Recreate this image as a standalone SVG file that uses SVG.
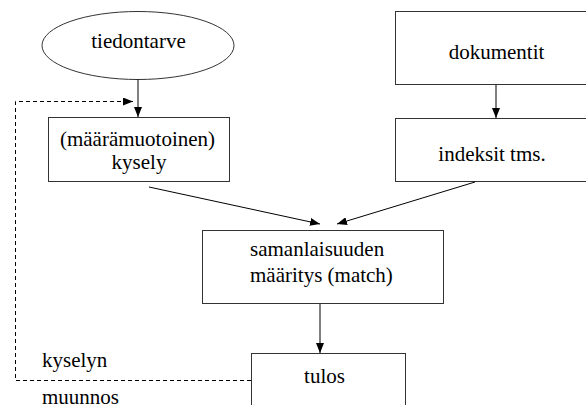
<svg xmlns="http://www.w3.org/2000/svg" width="586" height="405" viewBox="0 0 586 405">
<defs>
<style>
.n{fill:#fff;stroke:#333;stroke-width:1}
.t{font-family:'Liberation Serif','Times New Roman',Times,'Nimbus Roman','DejaVu Serif',serif;font-size:21px;fill:#000}
.c{text-anchor:middle}
.e{fill:none;stroke:#000;stroke-width:1}
.d{fill:none;stroke:#000;stroke-width:1;stroke-dasharray:4 3}
</style>
<marker id="ah" viewBox="0 0 10 8" refX="10" refY="4" markerWidth="10" markerHeight="8" markerUnits="userSpaceOnUse" orient="auto">
<path d="M0,0 L10,4 L0,8 Z" fill="#000"/>
</marker>
</defs>
<rect width="586" height="405" fill="#fff"/>
<g id="tiedontarve">
<ellipse class="n" cx="138" cy="45.5" rx="96" ry="34"/>
<text class="t c" x="138.5" y="48">tiedontarve</text>
</g>
<g id="kysely">
<rect class="n" x="48.5" y="117.5" width="181" height="64"/>
<text class="t c" x="137.5" y="146">(määrämuotoinen)</text>
<text class="t c" x="139" y="169">kysely</text>
</g>
<g id="dokumentit">
<rect class="n" x="395.5" y="11.5" width="210" height="73"/>
<text class="t c" x="496.5" y="59">dokumentit</text>
</g>
<g id="indeksit">
<rect class="n" x="395.5" y="118.5" width="210" height="63"/>
<text class="t c" x="492" y="161">indeksit tms.</text>
</g>
<g id="match">
<rect class="n" x="202.5" y="230.5" width="241" height="73"/>
<text class="t" x="250" y="256">samanlaisuuden</text>
<text class="t" x="250" y="282">määritys (match)</text>
</g>
<g id="tulos">
<rect class="n" x="251.5" y="353.5" width="154" height="70"/>
<text class="t c" x="324.5" y="383">tulos</text>
</g>
<g id="connectors">
<line class="e" x1="138" y1="79.5" x2="138" y2="117" marker-end="url(#ah)"/>
<line class="e" x1="496" y1="85" x2="496" y2="118" marker-end="url(#ah)"/>
<line class="e" x1="149" y1="187" x2="320" y2="224" marker-end="url(#ah)"/>
<line class="e" x1="475" y1="182" x2="337" y2="224" marker-end="url(#ah)"/>
<line class="e" x1="320" y1="304" x2="320" y2="353" marker-end="url(#ah)"/>
<polyline class="d" points="251,380.5 15.5,380.5 15.5,101.5 133,101.5" marker-end="url(#ah)"/>
<text class="t" x="42" y="367">kyselyn</text>
<text class="t" x="42" y="404">muunnos</text>
</g>
</svg>
